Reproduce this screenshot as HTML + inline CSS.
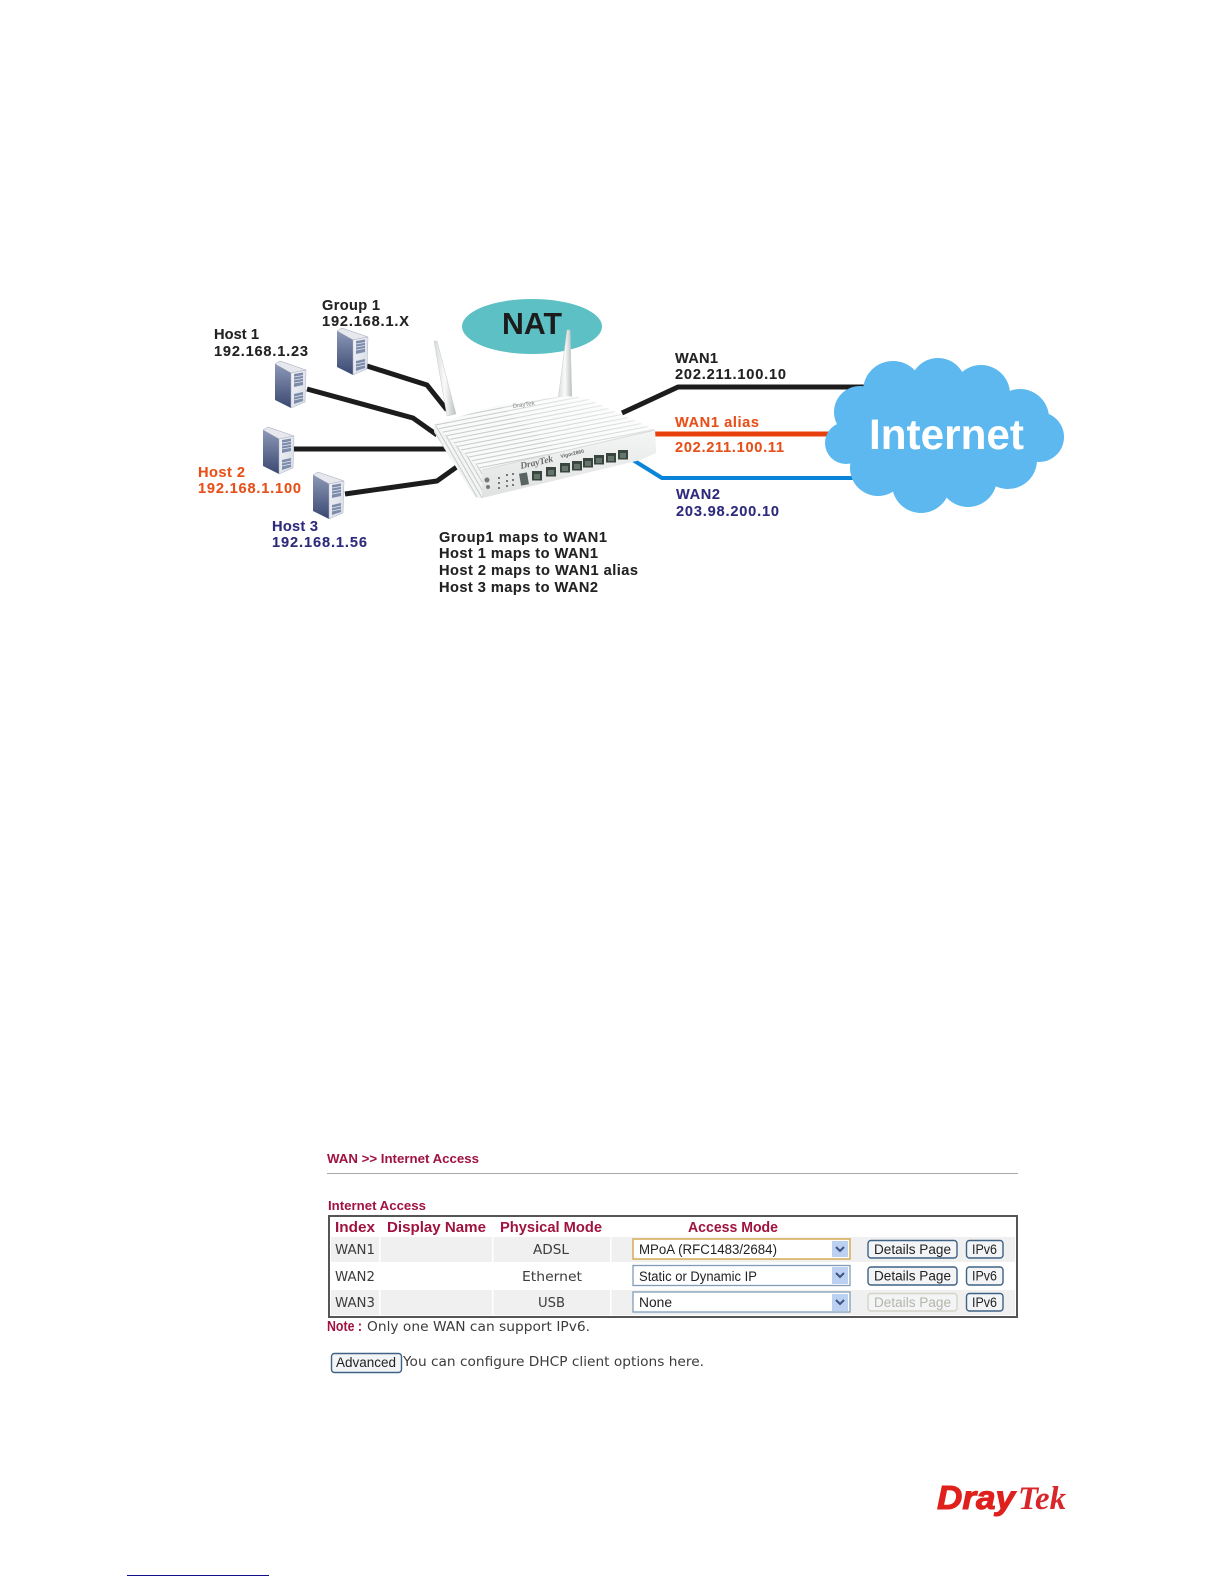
<!DOCTYPE html>
<html><head><meta charset="utf-8"><style>
html,body{margin:0;padding:0;background:#fff;width:1224px;height:1584px;overflow:hidden}
svg{display:block}
.d{font:bold 14.600px "Liberation Sans",sans-serif;fill:#222;stroke:#222;stroke-width:.1}
.o{fill:#e8501a;stroke:#e8501a}.n{fill:#2e2a7c;stroke:#2e2a7c}
.r{font:bold 13px "Liberation Sans",sans-serif;fill:#a0123f}
.h{font:bold 14.500px "Liberation Sans",sans-serif;fill:#a0123f}
.t{font:13px "DejaVu Sans",sans-serif;fill:#3c3c3c}
.s{font:13.500px "Liberation Sans",sans-serif;fill:#222}
.btn{fill:#f2f4f6;stroke:#3f6285;stroke-width:1.400}
.sel{fill:#fff;stroke:#7f9db9;stroke-width:1.300}
</style></head><body>
<svg width="1224" height="1584" viewBox="0 0 1224 1584" xmlns="http://www.w3.org/2000/svg">
<defs>
<linearGradient id="lf" x1="0" y1="0" x2="0" y2="1"><stop offset="0" stop-color="#8c98b6"/><stop offset="1" stop-color="#3a4872"/></linearGradient>
<linearGradient id="ff" x1="0" y1="0" x2="1" y2="1"><stop offset="0" stop-color="#f4f5f8"/><stop offset="1" stop-color="#d4d9e4"/></linearGradient>
<linearGradient id="ant" x1="0" y1="0" x2="1" y2="0"><stop offset="0" stop-color="#d8dcdc"/><stop offset=".5" stop-color="#fafafa"/><stop offset="1" stop-color="#b9bebe"/></linearGradient>
<linearGradient id="front" x1="0" y1="0" x2="0" y2="1"><stop offset="0" stop-color="#f4f5f5"/><stop offset="1" stop-color="#e0e2e2"/></linearGradient>
<linearGradient id="fade" x1="0" y1="1" x2="1" y2="0"><stop offset="0" stop-color="#fff" stop-opacity="0"/><stop offset=".6" stop-color="#fff" stop-opacity=".35"/><stop offset="1" stop-color="#fff" stop-opacity=".9"/></linearGradient>
<pattern id="ribs" width="200" height="4.200" patternUnits="userSpaceOnUse" patternTransform="rotate(-11)">
<rect width="200" height="4.200" fill="#f9fafa"/><rect y="0" width="200" height="1" fill="#c6caca"/>
</pattern>
<pattern id="ribs2" width="4" height="200" patternUnits="userSpaceOnUse" patternTransform="rotate(-30)">
<rect width="4" height="200" fill="#f3f4f4"/><rect width="1" height="200" fill="#c8cbcb"/>
</pattern>
<g id="srv">
<polygon points="0,3 5,0 31,9 16,12" fill="#e6e8ee" stroke="#9aa2b5" stroke-width=".5"/>
<polygon points="0,3 16,12 16,47 0,39" fill="url(#lf)"/>
<polygon points="16,12 31,9 30,41 16,47" fill="url(#ff)" stroke="#aab0c0" stroke-width=".5"/>
<polygon points="19,13 28,11.500 28,24 19,26" fill="#7d8cab"/>
<path d="M19 16l9-1.500M19 19l9-1.500M19 22l9-1.500" stroke="#e4e7ee" stroke-width=".7"/>
<polygon points="19,33 28,31 28,40 19,43" fill="#7d8cab"/>
<path d="M19 36l9-2M19 39l9-2" stroke="#e4e7ee" stroke-width=".7"/>
</g>
<g id="port"><rect width="10" height="9.500" fill="#39453f"/><rect x="2" y="3" width="6" height="5" fill="#66756c"/></g>
</defs>

<ellipse cx="532" cy="326.500" rx="70" ry="27.500" fill="#5cc0c4"/>
<text x="502" y="334" font-family="Liberation Sans" font-weight="bold" font-size="31" fill="#1c1c1c" textLength="60" lengthAdjust="spacingAndGlyphs">NAT</text>

<g fill="none" stroke="#1c1c1c" stroke-width="5">
<polyline points="367,366 427,385 447,410"/>
<polyline points="307,389 413,418 437,435"/>
<polyline points="294,449 448,449"/>
<polyline points="345,494 437,481 458,466"/>
</g>
<use href="#srv" x="337" y="328"/>
<use href="#srv" x="275" y="361"/>
<use href="#srv" x="263" y="427"/>
<use href="#srv" x="313" y="472"/>

<polygon points="434,341 437,341 456,414 447,416" fill="url(#ant)" stroke="#c8cccc" stroke-width=".5"/>
<polygon points="567,330 570,330 572,400 558,400" fill="url(#ant)" stroke="#c8cccc" stroke-width=".5"/>

<g fill="none" stroke-linejoin="round">
<polyline points="622,413 678,387 873,387" stroke="#1c1c1c" stroke-width="5"/>
<polyline points="650,434 832,434" stroke="#e8400c" stroke-width="5"/>
<polyline points="633,460 662,478 860,478" stroke="#0a84d8" stroke-width="4"/>
</g>

<polygon points="434,424 500,405 565,396 585,398 655,430 656,453 640,460 482,498 475,497 434,432" fill="#eceeee"/>
<polygon points="434,424 500,405 565,396 585,398 655,430 482,470" fill="url(#ribs)"/>
<polygon points="434,424 482,470 482,498 475,497 434,432" fill="url(#ribs2)"/>
<polygon points="500,405 565,396 585,398 655,430 560,452" fill="url(#fade)"/>
<polygon points="482,470 655,430 656,453 640,460 482,498" fill="url(#front)"/>
<path d="M482,470 L655,430" stroke="#d8dbdb" stroke-width="1" fill="none"/>
<text x="513" y="408" font-family="Liberation Sans" font-size="6" fill="#888" transform="rotate(-8 513 408)">DrayTek</text>
<text x="521" y="469" font-family="Liberation Serif" font-style="italic" font-weight="bold" font-size="9.500" fill="#6c6c6c" transform="rotate(-13 521 469)">DrayTek</text>
<text x="561" y="458" font-family="Liberation Sans" font-weight="bold" font-size="5" fill="#666" transform="rotate(-13 561 458)">Vigor2860</text>
<rect x="520" y="473" width="8" height="12" fill="#5b6463" transform="rotate(-10 524 479)"/>
<use href="#port" x="532" y="471"/><use href="#port" x="546" y="467"/><use href="#port" x="560" y="463"/>
<use href="#port" x="572" y="461"/><use href="#port" x="583" y="458"/><use href="#port" x="594" y="455"/>
<use href="#port" x="606" y="453"/><use href="#port" x="618" y="450"/>
<g fill="#777"><circle cx="487" cy="480" r="2.500"/><circle cx="488" cy="487" r="2"/>
<rect x="498" y="477" width="2" height="2"/><rect x="498" y="482" width="2" height="2"/><rect x="498" y="487" width="2" height="2"/>
<rect x="506" y="474" width="2" height="2"/><rect x="506" y="480" width="2" height="2"/><rect x="506" y="485" width="2" height="2"/>
<rect x="512" y="473" width="2" height="2"/><rect x="512" y="479" width="2" height="2"/><rect x="512" y="484" width="2" height="2"/></g>

<g fill="#5cb8ee">
<circle cx="893" cy="391" r="30"/><circle cx="938" cy="386" r="28"/><circle cx="981" cy="394" r="29"/>
<circle cx="1020" cy="418" r="29"/><circle cx="1039" cy="437" r="25"/><circle cx="1008" cy="460" r="29"/>
<circle cx="968" cy="478" r="29"/><circle cx="921" cy="484" r="29"/><circle cx="878" cy="468" r="28"/>
<circle cx="846" cy="443" r="21"/><circle cx="860" cy="412" r="26"/>
<ellipse cx="940" cy="435" rx="95" ry="60"/>
</g>
<text x="869" y="449" font-family="Liberation Sans" font-weight="bold" font-size="43" fill="#fff" textLength="155" lengthAdjust="spacingAndGlyphs">Internet</text>

<text class="d" x="322" y="310" textLength="58">Group 1</text>
<text class="d" x="322" y="326" textLength="87">192.168.1.X</text>
<text class="d" x="214" y="339" textLength="45">Host 1</text>
<text class="d" x="214" y="356" textLength="94">192.168.1.23</text>
<text class="d o" x="198" y="477" textLength="47">Host 2</text>
<text class="d o" x="198" y="493" textLength="103">192.168.1.100</text>
<text class="d n" x="272" y="531" textLength="46">Host 3</text>
<text class="d n" x="272" y="547" textLength="95">192.168.1.56</text>
<text class="d" x="439" y="542" textLength="168">Group1 maps to WAN1</text>
<text class="d" x="439" y="558" textLength="159">Host 1 maps to WAN1</text>
<text class="d" x="439" y="575" textLength="199">Host 2 maps to WAN1 alias</text>
<text class="d" x="439" y="592" textLength="159">Host 3 maps to WAN2</text>
<text class="d" x="675" y="363" textLength="43">WAN1</text>
<text class="d" x="675" y="379" textLength="111">202.211.100.10</text>
<text class="d o" x="675" y="427" textLength="84">WAN1 alias</text>
<text class="d o" x="675" y="452" textLength="109">202.211.100.11</text>
<text class="d n" x="676" y="499" textLength="44">WAN2</text>
<text class="d n" x="676" y="516" textLength="103">203.98.200.10</text>

<text class="r" x="327" y="1163" textLength="152" lengthAdjust="spacingAndGlyphs">WAN &gt;&gt; Internet Access</text>
<rect x="327" y="1173" width="691" height="1" fill="#a8a8a8"/>
<text class="r" x="328" y="1210" textLength="98" lengthAdjust="spacingAndGlyphs">Internet Access</text>

<rect x="329" y="1216" width="688" height="101" fill="#fff" stroke="#555" stroke-width="2"/>
<rect x="331" y="1237" width="684" height="25" fill="#f0f0f0"/>
<rect x="331" y="1290" width="684" height="25" fill="#f0f0f0"/>
<g fill="#fff"><rect x="379" y="1237" width="1.500" height="25"/><rect x="492" y="1237" width="1.500" height="25"/><rect x="610" y="1237" width="1.500" height="25"/>
<rect x="379" y="1290" width="1.500" height="25"/><rect x="492" y="1290" width="1.500" height="25"/><rect x="610" y="1290" width="1.500" height="25"/></g>

<text class="h" x="335" y="1232" textLength="40" lengthAdjust="spacingAndGlyphs">Index</text>
<text class="h" x="387" y="1232" textLength="99" lengthAdjust="spacingAndGlyphs">Display Name</text>
<text class="h" x="500" y="1232" textLength="102" lengthAdjust="spacingAndGlyphs">Physical Mode</text>
<text class="h" x="688" y="1232" textLength="90" lengthAdjust="spacingAndGlyphs">Access Mode</text>

<text class="t" x="335" y="1254" textLength="40" lengthAdjust="spacingAndGlyphs">WAN1</text>
<text class="t" x="335" y="1281" textLength="40" lengthAdjust="spacingAndGlyphs">WAN2</text>
<text class="t" x="335" y="1307" textLength="40" lengthAdjust="spacingAndGlyphs">WAN3</text>
<text class="t" x="533" y="1254" textLength="36" lengthAdjust="spacingAndGlyphs">ADSL</text>
<text class="t" x="522" y="1281" textLength="60" lengthAdjust="spacingAndGlyphs">Ethernet</text>
<text class="t" x="538" y="1307" textLength="27" lengthAdjust="spacingAndGlyphs">USB</text>

<rect class="sel" x="633" y="1239" width="217" height="20" style="stroke:#d8b060;stroke-width:1.600"/>
<rect class="sel" x="633" y="1265.500" width="217" height="20"/>
<rect class="sel" x="633" y="1292" width="217" height="20"/>
<text class="s" x="639" y="1254" textLength="138" lengthAdjust="spacingAndGlyphs">MPoA (RFC1483/2684)</text>
<text class="s" x="639" y="1281" textLength="118" lengthAdjust="spacingAndGlyphs">Static or Dynamic IP</text>
<text class="s" x="639" y="1307" textLength="33" lengthAdjust="spacingAndGlyphs">None</text>
<g fill="#bcd0f2"><rect x="832" y="1241" width="16" height="16"/><rect x="832" y="1267" width="16" height="17"/><rect x="832" y="1294" width="16" height="17"/></g>
<g fill="none" stroke="#3a5580" stroke-width="2"><path d="M836 1247l4 4 4-4"/><path d="M836 1273l4 4 4-4"/><path d="M836 1300l4 4 4-4"/></g>

<rect class="btn" x="868" y="1240.500" width="89" height="17.500" rx="3"/>
<rect class="btn" x="868" y="1267" width="89" height="18" rx="3"/>
<rect class="btn" x="868" y="1293.500" width="89" height="17.500" rx="3" style="stroke:#d4d4c8"/>
<text class="s" x="874" y="1254" textLength="77" lengthAdjust="spacingAndGlyphs">Details Page</text>
<text class="s" x="874" y="1280.500" textLength="77" lengthAdjust="spacingAndGlyphs">Details Page</text>
<text class="s" x="874" y="1307" textLength="77" lengthAdjust="spacingAndGlyphs" style="fill:#b5b5a8">Details Page</text>
<rect class="btn" x="966.500" y="1240.500" width="36.500" height="17.500" rx="3"/>
<rect class="btn" x="966.500" y="1267" width="36.500" height="18" rx="3"/>
<rect class="btn" x="966.500" y="1293.500" width="36.500" height="17.500" rx="3"/>
<text class="s" x="972" y="1254" textLength="25" lengthAdjust="spacingAndGlyphs">IPv6</text>
<text class="s" x="972" y="1280.500" textLength="25" lengthAdjust="spacingAndGlyphs">IPv6</text>
<text class="s" x="972" y="1307" textLength="25" lengthAdjust="spacingAndGlyphs">IPv6</text>

<text class="h" x="327" y="1331" textLength="35" lengthAdjust="spacingAndGlyphs">Note :</text>
<text class="t" x="367" y="1331" textLength="223" lengthAdjust="spacingAndGlyphs">Only one WAN can support IPv6.</text>
<rect class="btn" x="331.500" y="1353.500" width="70" height="19" rx="3"/>
<text class="s" x="336" y="1367" textLength="60" lengthAdjust="spacingAndGlyphs">Advanced</text>
<text class="t" x="403" y="1366" textLength="301" lengthAdjust="spacingAndGlyphs">You can configure DHCP client options here.</text>

<text x="937" y="1509" font-family="Liberation Sans" font-weight="bold" font-style="italic" font-size="33" fill="#e0201c" stroke="#e0201c" stroke-width="1" textLength="78" lengthAdjust="spacingAndGlyphs">Dray</text>
<text x="1018" y="1509" font-family="Liberation Serif" font-weight="bold" font-style="italic" font-size="33" fill="#d8262a" textLength="48" lengthAdjust="spacingAndGlyphs">Tek</text>

<rect x="127" y="1575" width="142" height="1" fill="#10108a"/>
</svg>
</body></html>
